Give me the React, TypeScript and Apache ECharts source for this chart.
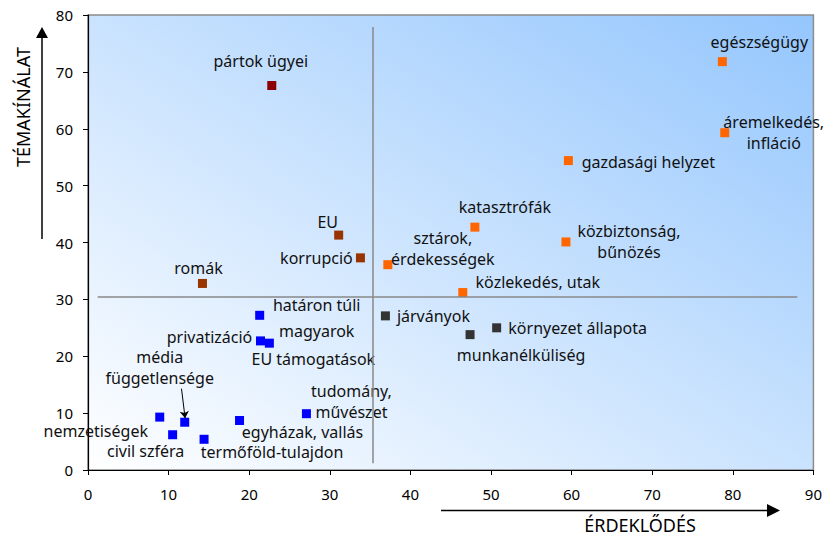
import React, { useEffect, useRef } from "react";
import * as echarts from "echarts";

// ---- data ----
const topics = [
  "pártok ügyei",
  "EU",
  "korrupció",
  "romák",
  "egészségügy",
  "áremelkedés,\ninfláció",
  "gazdasági helyzet",
  "katasztrófák",
  "közbiztonság,\nbűnözés",
  "sztárok,\nérdekességek",
  "közlekedés, utak",
  "járványok",
  "környezet állapota",
  "munkanélküliség",
  "határon túli\nmagyarok",
  "privatizáció",
  "EU támogatások",
  "tudomány,\nművészet",
  "egyházak, vallás",
  "nemzetiségek",
  "média\nfüggetlensége",
  "civil szféra",
  "termőföld-tulajdon",
];
// ÉRDEKLŐDÉS (x)
const interest = [22.8, 31.1, 33.8, 14.2, 78.7, 79.0, 59.6, 48.0, 59.3, 37.2, 46.5, 36.9, 50.7, 47.4, 21.3, 21.4, 22.5, 27.1, 18.8, 8.9, 12.0, 10.5, 14.4];
// TÉMAKÍNÁLAT (y)
const supply = [67.6, 41.3, 37.3, 32.8, 71.8, 59.3, 54.4, 42.7, 40.1, 36.1, 31.2, 27.1, 25.0, 23.8, 27.2, 22.7, 22.3, 9.9, 8.7, 9.3, 8.4, 6.2, 5.4];
const groupOf = [0, 1, 1, 1, 2, 2, 2, 2, 2, 2, 2, 3, 3, 3, 4, 4, 4, 4, 4, 4, 4, 4, 4];

const xTicks = { min: 0, max: 90, interval: 10 };
const yTicks = { min: 0, max: 80, interval: 10 };

// quadrant divider lines
const dividerX = 35.3;
const dividerXSpan = [1.2, 77.9];
const dividerY = 30.5;
const dividerYSpan = [1.2, 88.0];
// arrow pointing at "média függetlensége"
const mediaArrow = [[11.6, 14.3], [12.05, 9.1]];

// ---- styles ----
const groupColors = ["#8b0000", "#993300", "#ff6600", "#333333", "#0000ff"];
// label center offset from marker center [dx, dy], and line height
const labelStyle: Record<string, { off: [number, number]; lh?: number }> = {
  "pártok ügyei": { off: [-11, -25] },
  EU: { off: [-11, -13] },
  "korrupció": { off: [-44, 0] },
  "romák": { off: [-4, -15] },
  "egészségügy": { off: [37, -20] },
  "áremelkedés,\ninfláció": { off: [49, 0] },
  "gazdasági helyzet": { off: [80, 1] },
  "katasztrófák": { off: [30, -20] },
  "közbiztonság,\nbűnözés": { off: [63, 0] },
  "sztárok,\nérdekességek": { off: [55, -16] },
  "közlekedés, utak": { off: [75, -11] },
  "járványok": { off: [48, 0] },
  "környezet állapota": { off: [81, 0] },
  "munkanélküliség": { off: [51, 20] },
  "határon túli\nmagyarok": { off: [57, 3], lh: 26 },
  "privatizáció": { off: [-51, -4] },
  "EU támogatások": { off: [44, 16] },
  "tudomány,\nművészet": { off: [45, -12] },
  "egyházak, vallás": { off: [63, 11] },
  "nemzetiségek": { off: [-64, 14], lh: 15 },
  "média\nfüggetlensége": { off: [-25, -55] },
  "civil szféra": { off: [-27, 16] },
  "termőföld-tulajdon": { off: [68, 13] },
};

const FONT = "'Noto Sans', 'DejaVu Sans', sans-serif";

export default function App() {
  const ref = useRef<HTMLDivElement>(null);

  useEffect(() => {
    if (!ref.current) return;
    const chart = echarts.init(ref.current, undefined, { renderer: "svg" });

    const series: any[] = groupColors.map((color, g) => ({
      type: "scatter",
      symbol: "rect",
      symbolSize: 9,
      itemStyle: { color, opacity: 1 },
      label: {
        show: true,
        position: "inside",
        formatter: "{b}",
        color: "#111",
        fontSize: 16,
        fontFamily: FONT,
        lineHeight: 17,
        align: "center",
        verticalAlign: "middle",
      },
      data: topics
        .map((name, i) => ({ name, i }))
        .filter((d) => groupOf[d.i] === g)
        .map(({ name, i }) => {
          const st = labelStyle[name] || { off: [0, -15] };
          const multi = name.indexOf("\n") >= 0;
          return {
            name,
            value: [interest[i], supply[i]],
            label: { offset: st.off, lineHeight: st.lh || (multi ? 21 : 17) },
          };
        }),
      z: 3,
    }));

    series.push({
      type: "scatter",
      data: [],
      markLine: {
        silent: true,
        animation: false,
        symbol: "none",
        label: { show: false },
        lineStyle: { color: "#888888", width: 1.5, type: "solid" },
        data: [
          [
            { coord: [dividerX, dividerXSpan[0]] },
            { coord: [dividerX, dividerXSpan[1]] },
          ],
          [
            { coord: [dividerYSpan[0], dividerY] },
            { coord: [dividerYSpan[1], dividerY] },
          ],
          [
            { coord: mediaArrow[0], symbol: "none", lineStyle: { color: "#000", width: 1 } },
            { coord: mediaArrow[1], symbol: "arrow", symbolSize: 7, lineStyle: { color: "#000", width: 1 } },
          ],
        ],
      },
      z: 2,
    });

    chart.setOption({
      animation: false,
      grid: {
        left: 88,
        right: 11,
        top: 15,
        bottom: 68,
        show: true,
        borderColor: "#8c8c8c",
        borderWidth: 1.5,
        backgroundColor: new echarts.graphic.LinearGradient(0, 1, 1, 0, [
          { offset: 0, color: "#ffffff" },
          { offset: 1, color: "#94c6fd" },
        ]),
      },
      xAxis: {
        type: "value",
        ...xTicks,
        axisLine: { show: true, lineStyle: { color: "#000", width: 1.2 } },
        axisTick: { show: true, length: 5, lineStyle: { color: "#000" } },
        splitLine: { show: false },
        axisLabel: { color: "#000", fontSize: 15, fontFamily: FONT, margin: 16 },
      },
      yAxis: {
        type: "value",
        ...yTicks,
        axisLine: { show: true, lineStyle: { color: "#000", width: 1.2 } },
        axisTick: { show: true, length: 5, lineStyle: { color: "#000" } },
        splitLine: { show: false },
        axisLabel: { color: "#000", fontSize: 15, lineHeight: 12, fontFamily: FONT, margin: 15 },
      },
      graphic: [
        {
          type: "text",
          x: 23,
          y: 107,
          rotation: Math.PI / 2,
          style: {
            text: "TÉMAKÍNÁLAT",
            fontSize: 18,
            fontFamily: FONT,
            fill: "#000",
            align: "center",
            verticalAlign: "middle",
          },
        },
        {
          type: "line",
          shape: { x1: 42, y1: 239, x2: 42, y2: 36 },
          style: { stroke: "#000", lineWidth: 1.5 },
        },
        {
          type: "polygon",
          shape: { points: [[36, 38], [48, 38], [42, 27]] },
          style: { fill: "#000" },
        },
        {
          type: "text",
          x: 640,
          y: 525,
          style: {
            text: "ÉRDEKLŐDÉS",
            fontSize: 18,
            fontFamily: FONT,
            fill: "#000",
            align: "center",
            verticalAlign: "middle",
          },
        },
        {
          type: "line",
          shape: { x1: 441, y1: 510.5, x2: 769, y2: 510.5 },
          style: { stroke: "#000", lineWidth: 1.5 },
        },
        {
          type: "polygon",
          shape: { points: [[767, 504], [767, 517], [780, 510.5]] },
          style: { fill: "#000" },
        },
      ],
      series,
    });

    return () => chart.dispose();
  }, []);

  return (
    <div
      ref={ref}
      style={{ position: "absolute", left: 0, top: 0, width: 825, height: 538 }}
    />
  );
}
